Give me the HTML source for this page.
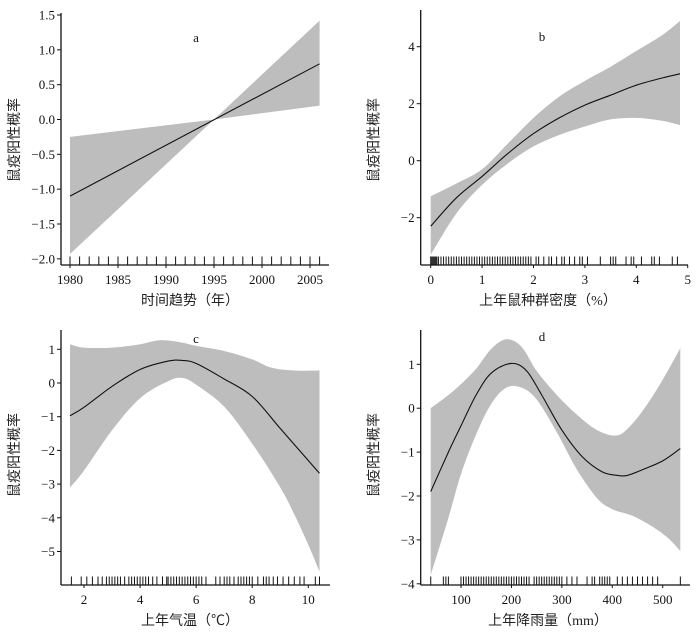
<!DOCTYPE html>
<html><head><meta charset="utf-8"><style>
html,body{margin:0;padding:0;background:#fff;}
svg{display:block;font-family:"Liberation Serif","Noto Serif CJK SC",serif;}
.t{font-size:13px;fill:#111;}
.zh{font-family:"Liberation Serif","Noto Sans CJK SC",sans-serif;font-size:14px;fill:#222;}
</style></head><body>
<svg id="c" width="700" height="634" viewBox="0 0 700 634" xmlns="http://www.w3.org/2000/svg"></svg>
<script>
// Panel a: time trend
const aX=[1980,2006];
const aFit=[-1.1,0.8];
const aBX=[1980,1995,2006];
const aUp=[-0.25,0,1.42];
const aLo=[-1.93,0,0.2];
const aRug=[1980,1981,1982,1983,1984,1985,1986,1987,1988,1989,1990,1991,1992,1993,1994,1995,1996,1997,1998,1999,2000,2001,2002,2003,2004,2005,2006];
const aXTicks=[1980,1985,1990,1995,2000,2005];
const aYTicks=[-2.0,-1.5,-1.0,-0.5,0.0,0.5,1.0,1.5];
// Panel b: density
const bX=[0,0.5,1,1.5,2,2.5,3,3.5,4,4.5,4.85];
const bFit=[-2.3,-1.3,-0.55,0.25,0.95,1.5,1.95,2.3,2.65,2.9,3.05];
const bUp=[-1.25,-0.8,-0.3,0.6,1.5,2.25,2.8,3.3,3.85,4.4,4.9];
const bLo=[-3.3,-1.85,-0.85,-0.1,0.5,0.9,1.2,1.45,1.5,1.4,1.25];
const bRug=[0,0.02,0.04,0.06,0.08,0.1,0.12,0.15,0.2,0.25,0.3,0.35,0.4,0.45,0.5,0.55,0.6,0.65,0.7,0.75,0.8,0.85,0.9,0.95,1.0,1.05,1.1,1.15,1.2,1.25,1.3,1.35,1.4,1.45,1.5,1.55,1.6,1.65,1.7,1.75,1.8,1.85,1.9,1.95,2.05,2.1,2.2,2.3,2.35,2.45,2.55,2.6,2.7,2.8,2.9,2.95,3.05,3.3,3.5,3.55,3.6,3.8,3.9,3.95,4.1,4.3,4.35,4.45,4.7,4.8];
const bXTicks=[0,1,2,3,4,5];
const bYTicks=[-2,0,2,4];
// Panel c: temperature
const cX=[1.5,2,3,4,5,5.5,6,7,8,9,10,10.4];
const cFit=[-0.97,-0.72,-0.1,0.4,0.65,0.67,0.58,0.12,-0.4,-1.35,-2.3,-2.68];
const cUX=[1.5,2,3,4,4.7,5.5,6,7,8,8.7,9.5,10.4];
const cUp=[1.15,1.05,1.05,1.15,1.27,1.2,1.1,0.95,0.7,0.45,0.37,0.37];
const cLX=[1.5,2,3,4,5,5.5,6,7,8,9,9.5,10,10.4];
const cLo=[-3.1,-2.6,-1.4,-0.45,0.05,0.15,-0.05,-0.7,-1.8,-3.1,-3.9,-4.8,-5.6];
const cRug=[1.55,1.9,2.1,2.3,2.5,2.65,2.8,2.9,3.0,3.1,3.2,3.3,3.45,3.6,3.7,3.8,3.9,4.0,4.1,4.2,4.3,4.45,4.6,4.8,4.95,5.0,5.1,5.2,5.3,5.4,5.5,5.6,5.7,5.8,5.9,6.0,6.1,6.2,6.35,6.7,6.85,7.0,7.1,7.2,7.35,7.5,7.6,7.7,7.8,7.9,8.0,8.2,8.4,8.5,8.6,8.75,8.9,9.1,9.3,9.5,9.7,9.85,10.25,10.4];
const cXTicks=[2,4,6,8,10];
const cYTicks=[-5,-4,-3,-2,-1,0,1];
// Panel d: rainfall
const dX=[40,75,100,130,160,200,230,260,300,340,380,410,430,460,500,535];
const dFit=[-1.9,-1.0,-0.4,0.3,0.8,1.02,0.85,0.3,-0.5,-1.1,-1.45,-1.53,-1.53,-1.4,-1.2,-0.92];
const dUX=[40,75,100,130,160,190,220,250,290,330,370,410,440,470,500,535];
const dUp=[0.0,0.3,0.55,0.9,1.35,1.57,1.4,0.85,0.3,-0.15,-0.5,-0.62,-0.35,0.1,0.65,1.37];
const dLX=[40,75,100,130,160,190,220,250,290,330,370,400,440,480,510,535];
const dLo=[-3.8,-2.5,-1.5,-0.6,0.1,0.47,0.47,0.2,-0.55,-1.4,-2.05,-2.3,-2.45,-2.7,-2.95,-3.25];
const dRug=[40,65,70,75,100,105,110,115,120,125,130,135,140,145,150,155,160,165,170,175,180,185,190,195,200,205,210,215,220,225,230,235,245,250,255,260,265,270,275,280,285,290,295,300,310,320,330,350,360,365,375,380,385,390,395,410,420,430,440,450,460,470,480,490,535];
const dXTicks=[100,200,300,400,500];
const dYTicks=[-4,-3,-2,-1,0,1];

const svg=document.getElementById('c');
const NS='http://www.w3.org/2000/svg';
function mk(tag,attrs,parent){const e=document.createElementNS(NS,tag);for(const k in attrs)e.setAttribute(k,attrs[k]);(parent||svg).appendChild(e);return e;}
function lin(d0,d1,r0,r1){return v=>r0+(v-d0)*(r1-r0)/(d1-d0);}
function seg(pts,straight){let d='';
 for(let i=0;i<pts.length-1;i++){const p0=pts[i-1]||pts[i],p1=pts[i],p2=pts[i+1],p3=pts[i+2]||p2;
  if(straight){d+='L'+p2[0].toFixed(1)+','+p2[1].toFixed(1);continue;}
  const c1=[p1[0]+(p2[0]-p0[0])/6,p1[1]+(p2[1]-p0[1])/6],c2=[p2[0]-(p3[0]-p1[0])/6,p2[1]-(p3[1]-p1[1])/6];
  d+='C'+c1.map(v=>v.toFixed(1))+' '+c2.map(v=>v.toFixed(1))+' '+p2[0].toFixed(1)+','+p2[1].toFixed(1);}
 return d;}
function mv(p){return p[0].toFixed(1)+','+p[1].toFixed(1);}

function panel(o){
 const g=mk('g',{});
 
 
 const sx=lin(o.xd[0],o.xd[1],o.xr[0],o.xr[1]), sy=lin(o.yd[0],o.yd[1],o.yr[0],o.yr[1]);
 const up=o.uX.map((x,i)=>[sx(x),sy(o.up[i])]);
 const lo=o.lX.map((x,i)=>[sx(x),sy(o.lo[i])]).reverse();
 const band=mk('path',{d:'M'+mv(up[0])+seg(up,o.straight)+'L'+mv(lo[0])+seg(lo,o.straight)+'Z',fill:'#bdbdbd',stroke:'none'},g);
 
 
 const fp=o.fX.map((x,i)=>[sx(x),sy(o.fit[i])]);
 const fit=mk('path',{d:'M'+mv(fp[0])+seg(fp,o.straight),fill:'none',stroke:'#111','stroke-width':1.1},g);
 
 
 const rg=mk('g',{stroke:'#111','stroke-width':1},g);
 
 
 o.rug.forEach(v=>{const l=mk('line',{x1:sx(v),x2:sx(v),y1:o.ax[1]-8.5,y2:o.ax[1]},rg);
  
  });
 const ya=mk('line',{x1:o.ax[0],x2:o.ax[0],y1:o.ytop,y2:o.ax[1],stroke:'#111','stroke-width':1.3},g);
 
 
 const xa=mk('line',{x1:o.ax[0],x2:o.xend,y1:o.ax[1],y2:o.ax[1],stroke:'#111','stroke-width':1.3},g);
 
 
 o.yt.forEach(v=>{const y=sy(v);mk('line',{x1:o.ax[0]-4,x2:o.ax[0],y1:y,y2:y,stroke:'#111'},g);
  const t=mk('text',{x:o.ax[0]-6,y:y+4.5,'text-anchor':'end',class:'t'},g);t.textContent=(o.yf?v.toFixed(1):String(v)).replace('-','\u2212');
  
  });
 o.xt.forEach(v=>{const x=sx(v);mk('line',{x1:x,x2:x,y1:o.ax[1],y2:o.ax[1]+3,stroke:'#111'},g);
  const t=mk('text',{x:x,y:o.ax[1]+19,'text-anchor':'middle',class:'t'},g);t.textContent=String(v);
  
  });
 const xt=mk('text',{x:o.xtx,y:o.ax[1]+40,'text-anchor':'middle',class:'zh'},g);xt.textContent=o.xtitle;
 
 
 const yt=mk('text',{x:0,y:0,'text-anchor':'middle',class:'zh',transform:'translate('+(o.ax[0]-42)+','+o.ytc+') rotate(-90)'},g);yt.textContent='鼠疫阳性概率';
 
 
 const lb=mk('text',{x:o.lab[0],y:o.lab[1],'text-anchor':'middle',class:'t'},g);lb.textContent=o.id;
 
 
}
panel({id:'a',xd:[1980,2005],xr:[70,310],yd:[0,1.5],yr:[119.5,15],ax:[61,265],ytop:13,xend:329,straight:true,
 uX:aBX,up:aUp,lX:aBX,lo:aLo,fX:aX,fit:aFit,rug:aRug,xt:aXTicks,yt:aYTicks,yf:true,
 xtitle:'时间趋势（年）',xtx:190,ytc:140,lab:[196,42]});
panel({id:'b',xd:[0,5],xr:[430.7,687.7],yd:[0,4],yr:[160.7,46.7],ax:[420.7,265],ytop:10,xend:688,
 uX:bX,up:bUp,lX:bX,lo:bLo,fX:bX,fit:bFit,rug:bRug,xt:bXTicks,yt:bYTicks,
 xtitle:'上年鼠种群密度（%）',xtx:548,ytc:140,lab:[542,41]});
panel({id:'c',xd:[2,10],xr:[84,308.3],yd:[0,1],yr:[383,349.3],ax:[61,585],ytop:330,xend:330,
 uX:cUX,up:cUp,lX:cLX,lo:cLo,fX:cX,fit:cFit,rug:cRug,xt:cXTicks,yt:cYTicks,
 xtitle:'上年气温（℃）',xtx:190,ytc:455,lab:[196,343]});
panel({id:'d',xd:[100,500],xr:[461,662.7],yd:[0,1],yr:[408.2,364.3],ax:[420.7,585],ytop:330,xend:690,
 uX:dUX,up:dUp,lX:dLX,lo:dLo,fX:dX,fit:dFit,rug:dRug,xt:dXTicks,yt:dYTicks,
 xtitle:'上年降雨量（mm）',xtx:548,ytc:455,lab:[542,341]});
</script>
</body></html>
